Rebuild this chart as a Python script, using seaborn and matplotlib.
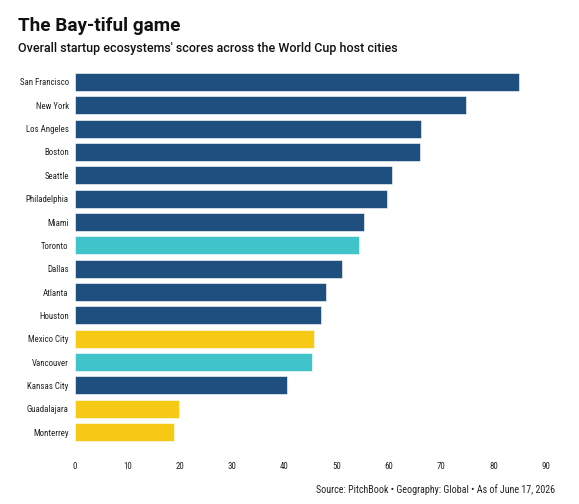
import matplotlib
matplotlib.use("Agg")
import matplotlib.pyplot as plt
import seaborn as sns
import pandas as pd

# scores
cities = ["San Francisco", "New York", "Los Angeles", "Boston", "Seattle",
          "Philadelphia", "Miami", "Toronto", "Dallas", "Atlanta", "Houston",
          "Mexico City", "Vancouver", "Kansas City", "Guadalajara", "Monterrey"]
scores = [84.9, 74.8, 66.2, 65.9, 60.5, 59.6, 55.2, 54.3, 51.0, 48.0, 47.0,
          45.6, 45.3, 40.5, 19.8, 19.0]
country = ["US", "US", "US", "US", "US", "US", "US", "Canada", "US", "US", "US",
           "Mexico", "Canada", "US", "Mexico", "Mexico"]
xticks = [0, 10, 20, 30, 40, 50, 60, 70, 80, 90]

palette = {"US": "#1f4f7f", "Canada": "#40c4c9", "Mexico": "#f6c915"}

df = pd.DataFrame({"city": cities, "score": scores, "country": country})

sns.set_style("white")
plt.rcParams["font.family"] = ["Roboto", "DejaVu Sans"]
narrow = ["Roboto Condensed", "Roboto", "DejaVu Sans"]

fig = plt.figure(figsize=(5.79, 5.04), dpi=100)
ax = fig.add_axes([0.1295, 0.1196, 0.8135, 0.7409])

sns.barplot(data=df, x="score", y="city", hue="country", palette=palette,
            dodge=False, legend=False, width=0.78, ax=ax, saturation=1,
            edgecolor="white", linewidth=0.4)

ax.set_xlim(0, 90)
ax.set_xticks(xticks)
ax.set_xlabel("")
ax.set_ylabel("")
sns.despine(ax=ax, left=True, bottom=True)
ax.tick_params(axis="x", length=0, pad=13.5, labelsize=6.4, colors="#222222")
ax.tick_params(axis="y", length=0, pad=4.5, labelsize=6.4, colors="#222222")
for lab in ax.get_xticklabels() + ax.get_yticklabels():
    lab.set_family(narrow)

fig.text(0.031, 0.948, "The Bay-tiful game", fontsize=13.6, fontweight="bold",
         va="center", color="#111111")
fig.text(0.031, 0.904, "Overall startup ecosystems' scores across the World Cup host cities",
         fontsize=9, fontweight="medium", va="center", color="#111111")
fig.text(0.9585, 0.028, "Source: PitchBook \u2022 Geography: Global \u2022 As of June 17, 2026",
         fontsize=7.2, ha="right", va="center", color="#222222", family=narrow)

fig.savefig("out.png", dpi=100)
